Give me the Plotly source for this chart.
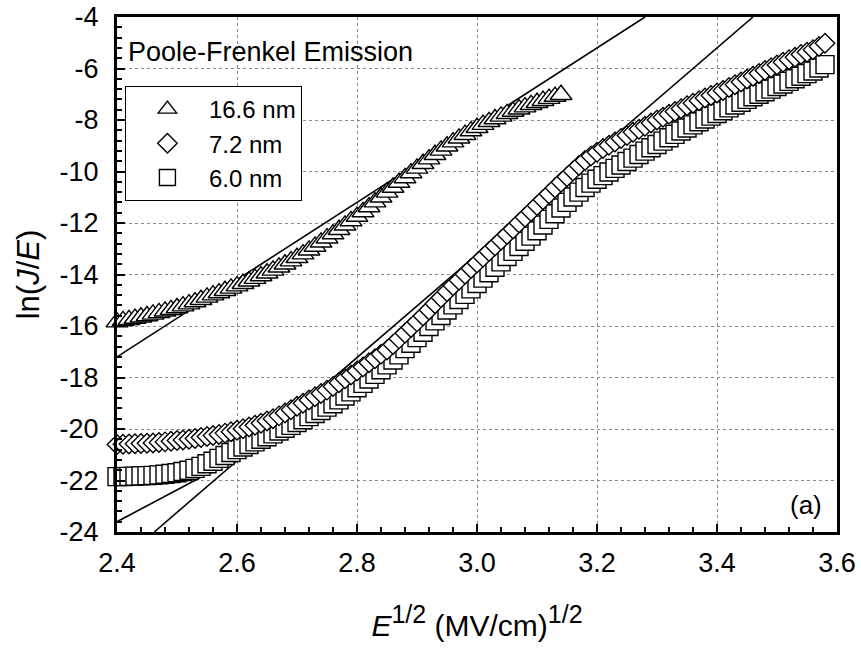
import plotly.graph_objects as go

# ---- data ----
# common E^1/2 grid (MV/cm)^1/2
x_grid = [2.40, 2.41, 2.42, 2.43, 2.44, 2.45, 2.46, 2.47, 2.48, 2.49,
          2.50, 2.51, 2.52, 2.53, 2.54, 2.55, 2.56, 2.57, 2.58, 2.59,
          2.60, 2.61, 2.62, 2.63, 2.64, 2.65, 2.66, 2.67, 2.68, 2.69,
          2.70, 2.71, 2.72, 2.73, 2.74, 2.75, 2.76, 2.77, 2.78, 2.79,
          2.80, 2.81, 2.82, 2.83, 2.84, 2.85, 2.86, 2.87, 2.88, 2.89,
          2.90, 2.91, 2.92, 2.93, 2.94, 2.95, 2.96, 2.97, 2.98, 2.99,
          3.00, 3.01, 3.02, 3.03, 3.04, 3.05, 3.06, 3.07, 3.08, 3.09,
          3.10, 3.11, 3.12, 3.13, 3.14, 3.15, 3.16, 3.17, 3.18, 3.19,
          3.20, 3.21, 3.22, 3.23, 3.24, 3.25, 3.26, 3.27, 3.28, 3.29,
          3.30, 3.31, 3.32, 3.33, 3.34, 3.35, 3.36, 3.37, 3.38, 3.39,
          3.40, 3.41, 3.42, 3.43, 3.44, 3.45, 3.46, 3.47, 3.48, 3.49,
          3.50, 3.51, 3.52, 3.53, 3.54, 3.55, 3.56, 3.57, 3.58]

# 16.6 nm (triangles), x = x_grid[:75]  (2.40 .. 3.14)
y_166 = [-15.85, -15.80, -15.76, -15.71, -15.66, -15.61, -15.55, -15.49, -15.43, -15.37,
         -15.30, -15.23, -15.15, -15.07, -14.98, -14.89, -14.80, -14.72, -14.63, -14.54,
         -14.45, -14.36, -14.26, -14.16, -14.06, -13.95, -13.84, -13.72, -13.60, -13.48,
         -13.35, -13.21, -13.06, -12.91, -12.75, -12.59, -12.43, -12.26, -12.09, -11.92,
         -11.75, -11.57, -11.38, -11.19, -11.00, -10.81, -10.62, -10.43, -10.25, -10.06,
         -9.88, -9.70, -9.52, -9.35, -9.18, -9.02, -8.86, -8.71, -8.57, -8.43,
         -8.30, -8.18, -8.07, -7.96, -7.86, -7.76, -7.67, -7.58, -7.50, -7.41,
         -7.33, -7.25, -7.17, -7.09, -7.02]

# 7.2 nm (diamonds), x = x_grid
y_72 = [-20.60, -20.59, -20.58, -20.57, -20.56, -20.55, -20.54, -20.52, -20.50, -20.48,
        -20.45, -20.43, -20.40, -20.37, -20.33, -20.29, -20.25, -20.21, -20.16, -20.11,
        -20.05, -19.99, -19.92, -19.85, -19.78, -19.69, -19.60, -19.49, -19.38, -19.25,
        -19.12, -19.00, -18.87, -18.75, -18.62, -18.49, -18.35, -18.20, -18.05, -17.90,
        -17.75, -17.59, -17.43, -17.27, -17.10, -16.93, -16.72, -16.50, -16.28, -16.06,
        -15.84, -15.61, -15.38, -15.14, -14.90, -14.67, -14.44, -14.22, -13.99, -13.77,
        -13.55, -13.33, -13.11, -12.89, -12.67, -12.45, -12.23, -12.00, -11.78, -11.55,
        -11.32, -11.10, -10.87, -10.64, -10.42, -10.20, -9.98, -9.77, -9.57, -9.40,
        -9.25, -9.11, -8.98, -8.85, -8.72, -8.60, -8.48, -8.36, -8.24, -8.12,
        -8.00, -7.89, -7.78, -7.67, -7.56, -7.45, -7.35, -7.25, -7.15, -7.05,
        -6.95, -6.85, -6.74, -6.63, -6.52, -6.41, -6.30, -6.19, -6.08, -5.97,
        -5.86, -5.76, -5.66, -5.56, -5.46, -5.37, -5.27, -5.15, -5.02]

# 6.0 nm (squares), x = x_grid
y_60 = [-21.85, -21.85, -21.84, -21.83, -21.82, -21.81, -21.80, -21.78, -21.76, -21.73,
        -21.70, -21.65, -21.60, -21.53, -21.45, -21.35, -21.25, -21.14, -21.03, -20.91,
        -20.80, -20.70, -20.60, -20.50, -20.40, -20.30, -20.19, -20.08, -19.97, -19.86,
        -19.75, -19.64, -19.52, -19.40, -19.28, -19.15, -19.02, -18.87, -18.72, -18.56,
        -18.40, -18.23, -18.06, -17.88, -17.70, -17.51, -17.32, -17.12, -16.88, -16.67,
        -16.45, -16.24, -16.02, -15.80, -15.59, -15.38, -15.18, -14.97, -14.77, -14.56,
        -14.35, -14.14, -13.93, -13.72, -13.51, -13.30, -13.10, -12.91, -12.71, -12.51,
        -12.30, -12.08, -11.86, -11.64, -11.42, -11.20, -10.99, -10.80, -10.62, -10.45,
        -10.30, -10.16, -10.02, -9.88, -9.75, -9.61, -9.48, -9.34, -9.21, -9.08,
        -8.95, -8.82, -8.69, -8.56, -8.43, -8.31, -8.19, -8.07, -7.96, -7.85,
        -7.75, -7.64, -7.53, -7.42, -7.31, -7.20, -7.10, -7.00, -6.90, -6.80,
        -6.70, -6.60, -6.50, -6.40, -6.30, -6.20, -6.10, -5.98, -5.85]

# straight-line fits (end points)
fit_166_x = [2.40, 3.28]
fit_166_y = [-17.2, -4.0]
fit_60_x = [2.40, 2.74]
fit_60_y = [-23.6, -19.4]
fit_72_x = [2.462, 3.46]
fit_72_y = [-24.0, -4.0]

series_names = ["16.6 nm", "7.2 nm", "6.0 nm"]
x_ticks = [2.4, 2.6, 2.8, 3.0, 3.2, 3.4, 3.6]
x_tick_text = ["2.4", "2.6", "2.8", "3.0", "3.2", "3.4", "3.6"]
y_ticks = [-24, -22, -20, -18, -16, -14, -12, -10, -8, -6, -4]
y_tick_text = ["-24", "-22", "-20", "-18", "-16", "-14", "-12", "-10", "-8", "-6", "-4"]

FONT = "Liberation Sans, Arial, sans-serif"

fig = go.Figure()

for fx, fy in [(fit_166_x, fit_166_y), (fit_60_x, fit_60_y), (fit_72_x, fit_72_y)]:
    fig.add_trace(go.Scatter(x=fx, y=fy, mode="lines",
                             line=dict(color="black", width=1.6),
                             showlegend=False, hoverinfo="skip"))

mk_line = dict(color="black", width=1.4)
fig.add_trace(go.Scatter(x=x_grid[:len(y_166)], y=y_166, mode="markers", name=series_names[0],
                         legendrank=1,
                         marker=dict(symbol="triangle-up", size=19, color="white", line=mk_line),
                         cliponaxis=False))
fig.add_trace(go.Scatter(x=x_grid, y=y_60, mode="markers", name=series_names[2],
                         legendrank=3,
                         marker=dict(symbol="square", size=18, color="white", line=mk_line),
                         cliponaxis=False))
fig.add_trace(go.Scatter(x=x_grid, y=y_72, mode="markers", name=series_names[1],
                         legendrank=2,
                         marker=dict(symbol="diamond", size=15, color="white", line=mk_line),
                         cliponaxis=False))

axis_common = dict(
    showline=True, linecolor="black", linewidth=3, mirror=True,
    ticks="inside", ticklen=8, tickwidth=2, tickcolor="black",
    showgrid=True, gridcolor="#8a8a8a", gridwidth=1, griddash="dot",
    zeroline=False, automargin=False,
    tickfont=dict(family=FONT, size=27, color="black"),
)

SUP = '<sup><span style="font-size:25px">1/2</span></sup>'
fig.update_xaxes(
    range=[2.4, 3.6], tickvals=x_ticks, ticktext=x_tick_text,
    minor=dict(dtick=0.04, tick0=2.4, ticks="inside", ticklen=5, tickwidth=2,
               tickcolor="black", showgrid=False),
    ticklabelstandoff=5,
    title=dict(text="<i>E</i>" + SUP + " (MV/cm)" + SUP,
               font=dict(family=FONT, size=30, color="black"), standoff=38),
    **axis_common,
)
fig.update_yaxes(
    range=[-24, -4], tickvals=y_ticks, ticktext=y_tick_text,
    minor=dict(dtick=0.4, tick0=-24, ticks="inside", ticklen=5, tickwidth=2,
               tickcolor="black", showgrid=False),
    ticklabelstandoff=10,
    title=dict(text="ln(<i>J</i>/<i>E</i>)",
               font=dict(family=FONT, size=31, color="black"), standoff=11),
    **axis_common,
)

fig.add_annotation(text="Poole-Frenkel Emission", xref="paper", yref="paper",
                   x=0.012, y=0.932, xanchor="left", yanchor="middle", showarrow=False,
                   font=dict(family=FONT, size=27, color="black"))
fig.add_annotation(text="(a)", xref="paper", yref="paper",
                   x=0.982, y=0.052, xanchor="right", yanchor="middle", showarrow=False,
                   font=dict(family=FONT, size=26, color="black"))

fig.update_layout(
    width=861, height=654,
    margin=dict(l=117, r=24, t=17, b=122),
    paper_bgcolor="white", plot_bgcolor="white",
    showlegend=True,
    legend=dict(x=0.011, y=0.866, xanchor="left", yanchor="top",
                bordercolor="black", borderwidth=1, bgcolor="white",
                font=dict(family=FONT, size=24, color="black"),
                traceorder="normal", itemwidth=73, itemsizing="trace"),
)

fig.write_html("out.html", config={"displayModeBar": False},
               post_script="document.body.style.margin='0px';")
